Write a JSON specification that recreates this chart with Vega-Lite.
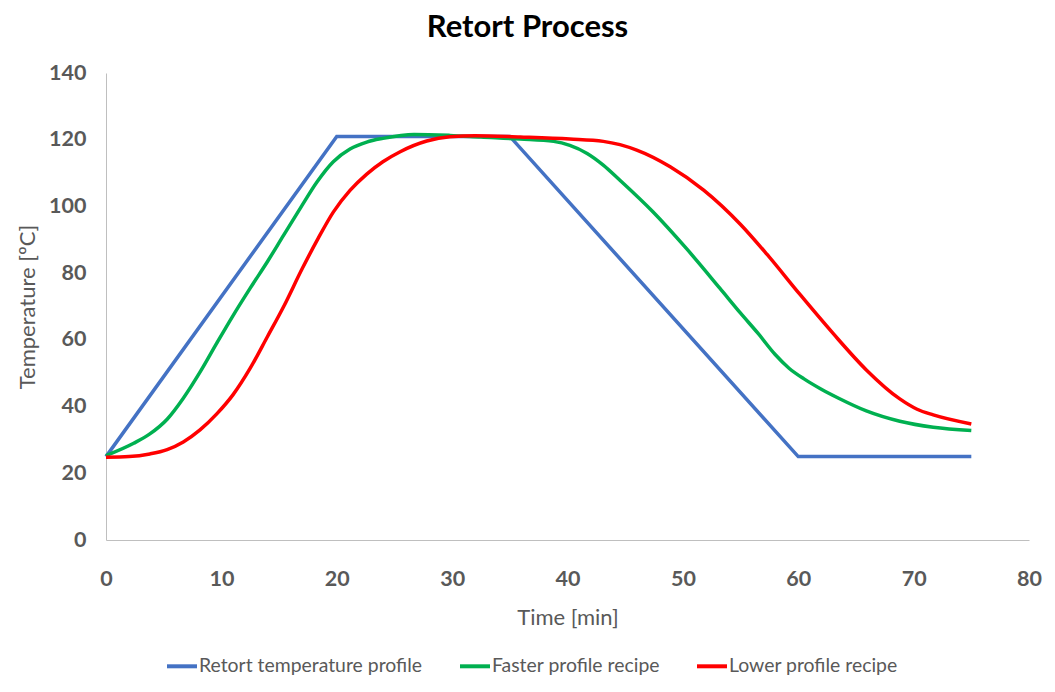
{
  "$schema": "https://vega.github.io/schema/vega-lite/v6.json",
  "width": 923,
  "height": 467,
  "autosize": {"type": "none"},
  "padding": {"left": 106, "top": 73, "right": 26, "bottom": 152},
  "background": "white",
  "title": {
    "text": "Retort Process",
    "font": "Lato",
    "fontSize": 31,
    "fontWeight": "bold",
    "color": "#000000",
    "anchor": "middle",
    "dx": -40,
    "offset": 18
  },
  "config": {
    "view": {"stroke": null},
    "axis": {"grid": false, "ticks": false, "domainColor": "#bfbfbf", "domainWidth": 1, "labelFont": "Lato", "titleFont": "Lato"}
  },
  "datasets": {
    "curves": [
      {"series": "Retort temperature profile", "time": 0, "temp": 25},
      {"series": "Retort temperature profile", "time": 20, "temp": 121},
      {"series": "Retort temperature profile", "time": 35, "temp": 121},
      {"series": "Retort temperature profile", "time": 60, "temp": 25},
      {"series": "Retort temperature profile", "time": 75, "temp": 25},

      {"series": "Faster profile recipe", "time": 0, "temp": 25.3},
      {"series": "Faster profile recipe", "time": 2.4, "temp": 29},
      {"series": "Faster profile recipe", "time": 3.8, "temp": 31.8},
      {"series": "Faster profile recipe", "time": 5.3, "temp": 36.2},
      {"series": "Faster profile recipe", "time": 6.7, "temp": 42.5},
      {"series": "Faster profile recipe", "time": 8.2, "temp": 50.6},
      {"series": "Faster profile recipe", "time": 9.6, "temp": 59},
      {"series": "Faster profile recipe", "time": 11, "temp": 67.2},
      {"series": "Faster profile recipe", "time": 12.5, "temp": 75.5},
      {"series": "Faster profile recipe", "time": 14, "temp": 83.5},
      {"series": "Faster profile recipe", "time": 15.4, "temp": 91.4},
      {"series": "Faster profile recipe", "time": 16.9, "temp": 99.8},
      {"series": "Faster profile recipe", "time": 18.3, "temp": 107.4},
      {"series": "Faster profile recipe", "time": 19.7, "temp": 113.4},
      {"series": "Faster profile recipe", "time": 21.15, "temp": 117.2},
      {"series": "Faster profile recipe", "time": 22.6, "temp": 119.3},
      {"series": "Faster profile recipe", "time": 24, "temp": 120.4},
      {"series": "Faster profile recipe", "time": 26.7, "temp": 121.6},
      {"series": "Faster profile recipe", "time": 29.8, "temp": 121.3},
      {"series": "Faster profile recipe", "time": 32.5, "temp": 120.8},
      {"series": "Faster profile recipe", "time": 35.9, "temp": 120.2},
      {"series": "Faster profile recipe", "time": 38.8, "temp": 119.5},
      {"series": "Faster profile recipe", "time": 40.2, "temp": 118.3},
      {"series": "Faster profile recipe", "time": 41.7, "temp": 115.9},
      {"series": "Faster profile recipe", "time": 43.1, "temp": 112.4},
      {"series": "Faster profile recipe", "time": 44.5, "temp": 108},
      {"series": "Faster profile recipe", "time": 47.4, "temp": 98.4},
      {"series": "Faster profile recipe", "time": 50.3, "temp": 87.4},
      {"series": "Faster profile recipe", "time": 53.2, "temp": 75.5},
      {"series": "Faster profile recipe", "time": 55, "temp": 68},
      {"series": "Faster profile recipe", "time": 56.5, "temp": 62},
      {"series": "Faster profile recipe", "time": 58, "temp": 55.6},
      {"series": "Faster profile recipe", "time": 59.2, "temp": 51.5},
      {"series": "Faster profile recipe", "time": 60.5, "temp": 48.3},
      {"series": "Faster profile recipe", "time": 62, "temp": 45.2},
      {"series": "Faster profile recipe", "time": 63.5, "temp": 42.5},
      {"series": "Faster profile recipe", "time": 65.9, "temp": 38.7},
      {"series": "Faster profile recipe", "time": 68.8, "temp": 35.6},
      {"series": "Faster profile recipe", "time": 71.7, "temp": 33.8},
      {"series": "Faster profile recipe", "time": 75, "temp": 32.8},

      {"series": "Lower profile recipe", "time": 0, "temp": 24.8},
      {"series": "Lower profile recipe", "time": 2, "temp": 25},
      {"series": "Lower profile recipe", "time": 3.8, "temp": 25.8},
      {"series": "Lower profile recipe", "time": 5.3, "temp": 27.1},
      {"series": "Lower profile recipe", "time": 6.7, "temp": 29.4},
      {"series": "Lower profile recipe", "time": 8.15, "temp": 33},
      {"series": "Lower profile recipe", "time": 9.6, "temp": 37.8},
      {"series": "Lower profile recipe", "time": 11, "temp": 43.5},
      {"series": "Lower profile recipe", "time": 12.5, "temp": 51.5},
      {"series": "Lower profile recipe", "time": 14, "temp": 61},
      {"series": "Lower profile recipe", "time": 15.4, "temp": 70},
      {"series": "Lower profile recipe", "time": 17, "temp": 81.3},
      {"series": "Lower profile recipe", "time": 18.4, "temp": 90.5},
      {"series": "Lower profile recipe", "time": 19.7, "temp": 98.3},
      {"series": "Lower profile recipe", "time": 21.15, "temp": 104.8},
      {"series": "Lower profile recipe", "time": 22.6, "temp": 109.7},
      {"series": "Lower profile recipe", "time": 24, "temp": 113.4},
      {"series": "Lower profile recipe", "time": 25.5, "temp": 116.4},
      {"series": "Lower profile recipe", "time": 27.8, "temp": 119.6},
      {"series": "Lower profile recipe", "time": 29.8, "temp": 120.9},
      {"series": "Lower profile recipe", "time": 32, "temp": 121.2},
      {"series": "Lower profile recipe", "time": 35.9, "temp": 120.8},
      {"series": "Lower profile recipe", "time": 40.2, "temp": 120.2},
      {"series": "Lower profile recipe", "time": 43.1, "temp": 119.5},
      {"series": "Lower profile recipe", "time": 46, "temp": 116.9},
      {"series": "Lower profile recipe", "time": 48.9, "temp": 111.9},
      {"series": "Lower profile recipe", "time": 51.8, "temp": 104.9},
      {"series": "Lower profile recipe", "time": 55, "temp": 94.6},
      {"series": "Lower profile recipe", "time": 57.3, "temp": 85.6},
      {"series": "Lower profile recipe", "time": 60.15, "temp": 73.6},
      {"series": "Lower profile recipe", "time": 63, "temp": 62},
      {"series": "Lower profile recipe", "time": 65.9, "temp": 51},
      {"series": "Lower profile recipe", "time": 68.8, "temp": 42.3},
      {"series": "Lower profile recipe", "time": 70.3, "temp": 39.2},
      {"series": "Lower profile recipe", "time": 71.7, "temp": 37.5},
      {"series": "Lower profile recipe", "time": 75, "temp": 34.8}
    ]
  },
  "data": {"name": "curves"},
  "encoding": {
    "x": {
      "field": "time", "type": "quantitative",
      "scale": {"domain": [0, 80], "nice": false},
      "axis": {"values": [0,10,20,30,40,50,60,70,80], "title": "Time [min]", "labelFlush": false, "labelFontSize": 21.5, "labelFontWeight": "bold", "labelColor": "#595959", "labelPadding": 28, "titleFontSize": 22, "titleFontWeight": "normal", "titleColor": "#595959", "titlePadding": 18}
    },
    "y": {
      "field": "temp", "type": "quantitative",
      "scale": {"domain": [0, 140], "nice": false},
      "axis": {"values": [0,20,40,60,80,100,120,140], "title": "Temperature [ºC]", "labelFlush": false, "labelFontSize": 21.5, "labelFontWeight": "bold", "labelColor": "#595959", "labelPadding": 20, "titleFontSize": 22, "titleFontWeight": "normal", "titleColor": "#595959", "titlePadding": 9}
    },
    "color": {
      "field": "series", "type": "nominal",
      "scale": {"domain": ["Retort temperature profile", "Faster profile recipe", "Lower profile recipe"], "range": ["#4472c4", "#00b050", "#ff0000"]},
      "legend": {"title": null, "orient": "none", "direction": "horizontal", "legendX": 59, "legendY": 576, "symbolType": "stroke", "symbolStrokeWidth": 4, "symbolSize": 900, "labelFont": "Lato", "labelFontSize": 19.4, "labelColor": "#595959", "labelLimit": 0, "columnPadding": 29, "labelOffset": 0}
    }
  },
  "layer": [
    {
      "transform": [{"filter": "datum.series === 'Retort temperature profile'"}],
      "mark": {"type": "line", "strokeWidth": 3.5, "interpolate": "linear"}
    },
    {
      "transform": [{"filter": "datum.series !== 'Retort temperature profile'"}],
      "mark": {"type": "line", "strokeWidth": 3.5, "interpolate": "monotone"}
    }
  ]
}
